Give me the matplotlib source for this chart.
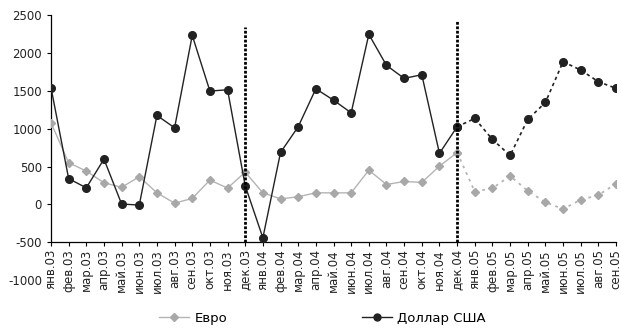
import matplotlib.pyplot as plt
from matplotlib.lines import Line2D

plt.rcParams['axes.unicode_minus'] = False

months = ['янв.03', 'фев.03', 'мар.03', 'апр.03', 'май.03', 'июн.03', 'июл.03', 'авг.03',
          'сен.03', 'окт.03', 'ноя.03', 'дек.03',
          'янв.04', 'фев.04', 'мар.04', 'апр.04', 'май.04', 'июн.04', 'июл.04', 'авг.04',
          'сен.04', 'окт.04', 'ноя.04', 'дек.04',
          'янв.05', 'фев.05', 'мар.05', 'апр.05', 'май.05', 'июн.05', 'июл.05', 'авг.05',
          'сен.05']

euro = [1080, 550, 440, 285, 225, 365, 152, 15, 78, 320, 215, 425,
        152, 72, 100, 152, 152, 152, 452, 262, 302, 290, 505, 685,
        168, 212, 376, 178, 28, -62, 60, 122, 272]

usd = [1545, 340, 218, 598, 4, -10, 1176, 1012, 2235, 1498, 1515, 245,
       -443, 686, 1026, 1528, 1378, 1210, 2248, 1838, 1666, 1714, 674, 1026,
       1136, 858, 646, 1122, 1347, 1886, 1776, 1622, 1534]

split = 23  # дек.04 - начало прогноза
markers_at = [11, 23]

fig = plt.figure(figsize=(6.21, 3.28), dpi=100)
ax = fig.add_axes([0.0821, 0.1466, 0.9099, 0.8067])

for s in ['top', 'right']:
    ax.spines[s].set_visible(False)
ax.spines['bottom'].set_position(('data', -500))
ax.spines['left'].set_bounds(-500, 2500)
ax.spines['left'].set_linewidth(0.9)
ax.spines['bottom'].set_linewidth(0.9)

x = list(range(len(months)))
euro_col = '#b4b4b4'
usd_col = '#222222'

# факт
ax.plot(x[:split + 1], euro[:split + 1], color=euro_col, lw=1, marker='D', ms=4,
        mfc='#a8a8a8', mec='#a8a8a8', zorder=3)
ax.plot(x[:split + 1], usd[:split + 1], color=usd_col, lw=1, marker='o', ms=5.5,
        mfc=usd_col, mec=usd_col, zorder=4)
# прогноз
ax.plot(x[split:], euro[split:], color=euro_col, lw=1.3, ls=(0, (1.5, 2.5)), marker='D',
        ms=4, mfc='#a8a8a8', mec='#a8a8a8', zorder=3)
ax.plot(x[split:], usd[split:], color=usd_col, lw=1.2, ls=(0, (2, 2)), marker='o', ms=5.5,
        mfc=usd_col, mec=usd_col, zorder=4)

# вертикальные линии
ax.vlines(markers_at[0], -500, 2340, color='black', lw=2, ls=(0, (1, 0.6)), zorder=5)
ax.vlines(markers_at[1], -500, 2430, color='black', lw=2, ls=(0, (1, 0.6)), zorder=5)

ax.set_xlim(0, len(months) - 1)
ax.set_ylim(-1000, 2500)
ax.set_yticks(range(-1000, 2501, 500))
ax.set_xticks(x)
ax.set_xticklabels(months, rotation=90, fontsize=8.5, color='#222222')
ax.tick_params(axis='y', labelsize=8.5, labelcolor='#222222', length=3, width=0.8)
ax.tick_params(axis='x', length=3, width=0.8, pad=2)
ax.yaxis.get_major_ticks()[0].tick1line.set_visible(False)

handles = [
    Line2D([], [], color=euro_col, lw=1, marker='D', ms=4, mfc='#a8a8a8', mec='#a8a8a8'),
    Line2D([], [], color=usd_col, lw=1, marker='o', ms=5, mfc=usd_col, mec=usd_col),
]
fig.legend(handles, ['Евро', 'Доллар США'], loc='center', bbox_to_anchor=(0.519, 0.03),
           ncol=2, frameon=False, fontsize=9.5, columnspacing=10.2, handlelength=2.3,
           handletextpad=0.4)

fig.savefig('out.png', dpi=100)
